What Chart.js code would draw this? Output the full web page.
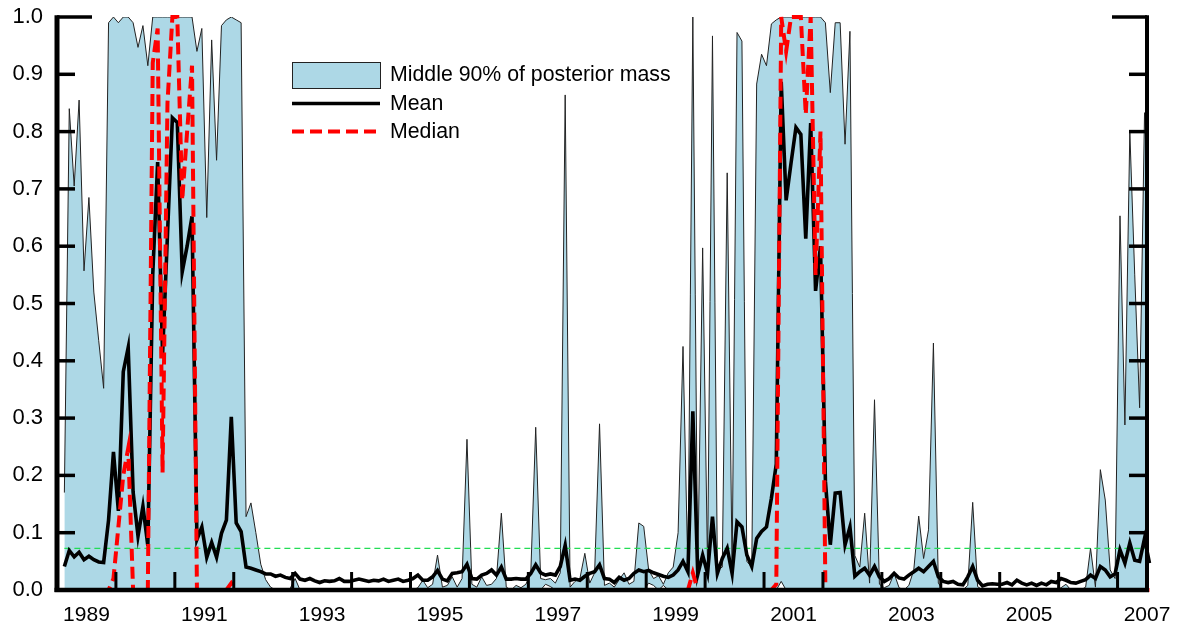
<!DOCTYPE html>
<html><head><meta charset="utf-8">
<script src="https://cdn.jsdelivr.net/npm/chart.js@4.4.1/dist/chart.umd.min.js"></script>
<style>html,body{margin:0;padding:0;background:#fff;}canvas{display:block;}</style>
</head><body>
<canvas id="c" width="1179" height="625"></canvas>
<script>
// Monthly series, first observation Aug 1988
const startYear = 1988;
const startMonth = 8;

const upperBand = [
 0.17,0.84,0.705,0.855,0.557,0.685,0.52,0.435,0.352,0.99,
 1.0,0.99,1.0,1.0,0.99,0.947,0.985,0.915,1.0,1.0,
 1.0,1.0,1.0,1.0,1.0,1.0,1.0,0.94,0.98,0.65,
 0.96,0.75,0.985,0.995,1.0,0.995,0.99,0.128,0.152,0.10,
 0.045,0.018,0.005,0,0,0,0.003,0.02,0,0,
 0,0,0,0,0,0,0,0,0,0,
 0,0,0,0,0,0,0,0,0,0,
 0,0,0.004,0.017,0.004,0.01,0.061,0.005,0.008,0.023,
 0.005,0.02,0.263,0.01,0.005,0.023,0.008,0.01,0.02,0.134,
 0.005,0,0.008,0.004,0.01,0.03,0.284,0.02,0.018,0.02,
 0.012,0.03,0.864,0.005,0.015,0.02,0.064,0.012,0.03,0.29,
 0.008,0.012,0.005,0.018,0.03,0.01,0.015,0.117,0.111,0.035,
 0.02,0.025,0.01,0.03,0.04,0.10,0.425,0.03,1.0,0.03,
 0.597,0.04,0.967,0.035,0.04,0.728,0.04,0.973,0.958,0.05,
 0.04,0.883,0.935,0.915,0.988,0.995,1.0,1.0,1.0,1.0,
 1.0,1.0,1.0,1.0,1.0,0.99,0.868,0.99,0.99,0.778,
 0.975,0.06,0.04,0.134,0.012,0.332,0.01,0.004,0.008,0.029,
 0.004,0,0.008,0.035,0.129,0.055,0.105,0.431,0.012,0,
 0,0,0,0,0.008,0.153,0.006,0,0,0,
 0,0,0,0,0,0,0,0,0,0,
 0,0,0,0.004,0.01,0,0,0,0.005,0.073,
 0.005,0.21,0.157,0.035,0.02,0.653,0.288,0.80,0.55,0.318,
 0.833,0.6
];

const lowerBand = [
 0,0,0,0,0,0,0,0,0,0,
 0,0,0,0,0,0,0,0,0,0,
 0,0,0,0,0,0,0,0,0,0,
 0,0,0,0,0,0,0,0,0,0,
 0,0,0,0,0,0,0,0,0,0,
 0,0,0,0,0,0,0,0,0,0,
 0,0,0,0,0,0,0,0,0,0,
 0,0,0,0,0,0,0,0,0,0,
 0,0,0,0,0,0,0,0,0,0,
 0,0,0,0,0,0,0,0,0.01,0.006,
 0,0,0,0,0,0,0,0,0,0,
 0,0,0,0,0,0,0,0,0,0.012,
 0.008,0,0.008,0,0,0,0,0,0,0,
 0,0,0,0,0,0,0,0,0,0,
 0,0,0,0,0,0,0.015,0,0,0,
 0,0,0,0,0,0,0,0,0,0,
 0,0,0,0,0,0,0,0,0,0,
 0,0,0,0,0,0,0,0,0,0,
 0,0,0,0,0,0,0,0,0,0,
 0,0,0,0,0,0,0,0,0,0,
 0,0,0,0,0,0,0,0,0,0,
 0,0,0,0,0,0,0,0,0,0,
 0,0
];

const meanValues = [
 0.041,0.069,0.058,0.066,0.053,0.059,0.053,0.049,0.048,0.122,
 0.241,0.138,0.381,0.423,0.171,0.094,0.146,0.077,0.55,0.747,
 0.41,0.62,0.824,0.816,0.555,0.60,0.652,0.088,0.11,0.057,
 0.083,0.057,0.099,0.122,0.302,0.117,0.102,0.04,0.038,0.035,
 0.032,0.028,0.028,0.024,0.026,0.022,0.02,0.029,0.019,0.017,
 0.02,0.016,0.013,0.016,0.015,0.016,0.02,0.015,0.015,0.017,
 0.019,0.017,0.015,0.017,0.016,0.019,0.015,0.017,0.019,0.015,
 0.017,0.02,0.026,0.017,0.017,0.023,0.034,0.019,0.016,0.029,
 0.03,0.032,0.045,0.02,0.019,0.026,0.029,0.035,0.026,0.04,
 0.019,0.019,0.02,0.019,0.019,0.029,0.044,0.03,0.026,0.028,
 0.026,0.041,0.078,0.017,0.019,0.017,0.024,0.029,0.032,0.044,
 0.02,0.019,0.013,0.022,0.017,0.02,0.029,0.035,0.032,0.034,
 0.03,0.027,0.024,0.022,0.026,0.035,0.05,0.032,0.312,0.027,
 0.061,0.029,0.128,0.029,0.055,0.073,0.029,0.119,0.11,0.061,
 0.041,0.09,0.102,0.11,0.16,0.22,0.887,0.68,0.745,0.807,
 0.795,0.613,0.815,0.522,0.60,0.19,0.079,0.169,0.17,0.079,
 0.11,0.024,0.032,0.038,0.026,0.041,0.023,0.015,0.02,0.029,
 0.021,0.019,0.026,0.032,0.038,0.032,0.041,0.05,0.023,0.015,
 0.013,0.015,0.01,0.009,0.023,0.041,0.017,0.007,0.01,0.011,
 0.01,0.01,0.013,0.009,0.017,0.012,0.009,0.012,0.008,0.012,
 0.009,0.015,0.013,0.02,0.017,0.013,0.012,0.015,0.018,0.026,
 0.02,0.041,0.035,0.023,0.028,0.07,0.047,0.082,0.052,0.05,
 0.09,0.047
];

const medianValues = [
 0,0,0,0,0,0,0,0,0,0,
 0.02,0.11,0.2,0.247,0,0,0,0,0.92,0.98,
 0.205,0.85,1.0,1.0,0.68,0.8,0.915,0,0,0,
 0,0,0,0,0.012,0,0,0,0,0,
 0,0,0,0,0,0,0,0,0,0,
 0,0,0,0,0,0,0,0,0,0,
 0,0,0,0,0,0,0,0,0,0,
 0,0,0,0,0,0,0,0,0,0,
 0,0,0,0,0,0,0,0,0,0,
 0,0,0,0,0,0,0,0,0,0,
 0,0,0,0,0,0,0,0,0,0,
 0,0,0,0,0,0,0,0,0,0,
 0,0,0,0,0,0,0,0,0.03,0,
 0,0,0,0,0,0,0,0,0,0,
 0,0,0,0,0,0.01,1.0,0.94,1.0,1.0,
 1.0,0.83,1.0,0.55,0.8,0,0,0,0,0,
 0,0,0,0,0,0,0,0,0,0,
 0,0,0,0,0,0,0,0,0,0,
 0,0,0,0,0,0,0,0,0,0,
 0,0,0,0,0,0,0,0,0,0,
 0,0,0,0,0,0,0,0,0,0,
 0,0,0,0,0,0,0,0,0,0,
 0,0
];

const thresholdValue = 0.0727;
const xMin = 1988.5, xMax = 2007;
const xTickYears = [1989,1991,1993,1995,1997,1999,2001,2003,2005,2007];
const xInnerTicks = [1989.5,1990.5,1991.5,1992.5,1993.5,1994.5,1995.5,1996.5,1997.5,1998.5,1999.5,2000.5,2001.5,2002.5,2003.5,2004.5,2005.5,2006.5];
const yTickValues = [0,0.1,0.2,0.3,0.4,0.5,0.6,0.7,0.8,0.9,1.0];
const legendLabels = ['Middle 90% of posterior mass','Mean','Median'];

const xDates = meanValues.map((_, i) => startYear + (startMonth - 1 + i + 0.5) / 12);
const pts = arr => arr.map((v, i) => ({x: xDates[i], y: v}));

const FONT = '"Liberation Sans", Arial, Helvetica, sans-serif';
const BAND_FILL = '#add8e6';
const RED = '#ff0000';

const axesLegendPlugin = {
  id: 'axesLegend',
  afterDatasetsDraw(chart) {
    const {ctx, chartArea: a, scales: {x, y}} = chart;
    const line = (x1, y1, x2, y2) => { ctx.beginPath(); ctx.moveTo(x1, y1); ctx.lineTo(x2, y2); ctx.stroke(); };
    ctx.save();
    ctx.strokeStyle = '#000';
    ctx.lineCap = 'butt';
    ctx.lineWidth = 3;
    xInnerTicks.forEach(v => { const px = x.getPixelForValue(v); line(px, a.bottom, px, a.bottom - 18); });
    ctx.lineWidth = 3.5;
    yTickValues.forEach(v => {
      if (v === 0) return;
      const py = y.getPixelForValue(v);
      const len = v === 1 ? 35 : 18;
      line(a.left, py, a.left + len, py);
      line(a.right, py, a.right - len, py);
    });
    const topY = y.getPixelForValue(1) - 1.75;
    ctx.lineWidth = 5;
    line(a.left, topY, a.left, a.bottom + 2);
    ctx.lineWidth = 4;
    line(a.right, topY, a.right, a.bottom + 2);
    ctx.lineWidth = 4.5;
    line(a.left - 2.5, a.bottom, a.right + 2, a.bottom);

    // legend
    const lx = 292, lw = 88, tx = 390;
    ctx.fillStyle = BAND_FILL;
    ctx.fillRect(lx, 62, lw, 26);
    ctx.lineWidth = 1;
    ctx.strokeStyle = '#222';
    ctx.strokeRect(lx + 0.5, 62.5, lw, 26);
    ctx.strokeStyle = '#000';
    ctx.lineWidth = 3.6;
    line(lx, 103.5, lx + lw, 103.5);
    ctx.strokeStyle = RED;
    ctx.lineWidth = 4;
    ctx.setLineDash([12, 6]);
    line(lx, 131.5, lx + lw + 1, 131.5);
    ctx.setLineDash([]);
    ctx.fillStyle = '#000';
    ctx.font = '21.3px ' + FONT;
    ctx.textAlign = 'left';
    ctx.textBaseline = 'middle';
    ctx.fillText(legendLabels[0], tx, 75);
    ctx.fillText(legendLabels[1], tx, 104);
    ctx.fillText(legendLabels[2], tx, 132);
    ctx.restore();
  }
};

new Chart(document.getElementById('c'), {
  type: 'line',
  data: {
    datasets: [
      {label: 'Median', data: pts(medianValues), borderColor: RED, borderWidth: 4, borderDash: [12, 6],
       pointRadius: 0, fill: false, tension: 0, clip: {left: 0, top: 4, right: 6, bottom: 4}},
      {label: 'Mean', data: pts(meanValues), borderColor: '#000', borderWidth: 3.6,
       pointRadius: 0, fill: false, tension: 0, clip: {left: 0, top: 4, right: 6, bottom: 4}},
      {label: 'threshold', data: [{x: xDates[0], y: thresholdValue}, {x: xDates[xDates.length - 1], y: thresholdValue}],
       borderColor: '#22dd55', borderWidth: 1.3, borderDash: [6, 4], pointRadius: 0, fill: false},
      {label: 'upper', data: pts(upperBand), borderColor: '#222', borderWidth: 1, backgroundColor: BAND_FILL,
       pointRadius: 0, fill: 4, tension: 0},
      {label: 'lower', data: pts(lowerBand), borderColor: '#222', borderWidth: 1,
       pointRadius: 0, fill: false, tension: 0}
    ]
  },
  options: {
    responsive: false,
    animation: false,
    devicePixelRatio: 1,
    layout: {padding: {top: 17, right: 32, left: 0, bottom: 0}},
    plugins: {legend: {display: false}, tooltip: {enabled: false}, filler: {drawTime: 'beforeDatasetsDraw'}},
    scales: {
      x: {
        type: 'linear', min: xMin, max: xMax,
        grid: {display: false, drawTicks: false},
        border: {display: false},
        afterBuildTicks: s => { s.ticks = xTickYears.map(v => ({value: v})); },
        afterFit: s => { s.height = 35; s.paddingLeft = 0; s.paddingRight = 0; },
        ticks: {autoSkip: false, maxRotation: 0, padding: 13, color: '#000',
                font: {family: FONT, size: 21}, callback: v => String(v)}
      },
      y: {
        type: 'linear', min: 0, max: 1,
        grid: {display: false, drawTicks: false},
        border: {display: false},
        afterBuildTicks: s => { s.ticks = yTickValues.map(v => ({value: v})); },
        afterFit: s => { s.width = 57; s.paddingTop = 0; s.paddingBottom = 0; },
        ticks: {autoSkip: false, padding: 14, color: '#000',
                font: {family: FONT, size: 22}, callback: v => Number(v).toFixed(1)}
      }
    }
  },
  plugins: [axesLegendPlugin]
});
</script>
</body></html>
